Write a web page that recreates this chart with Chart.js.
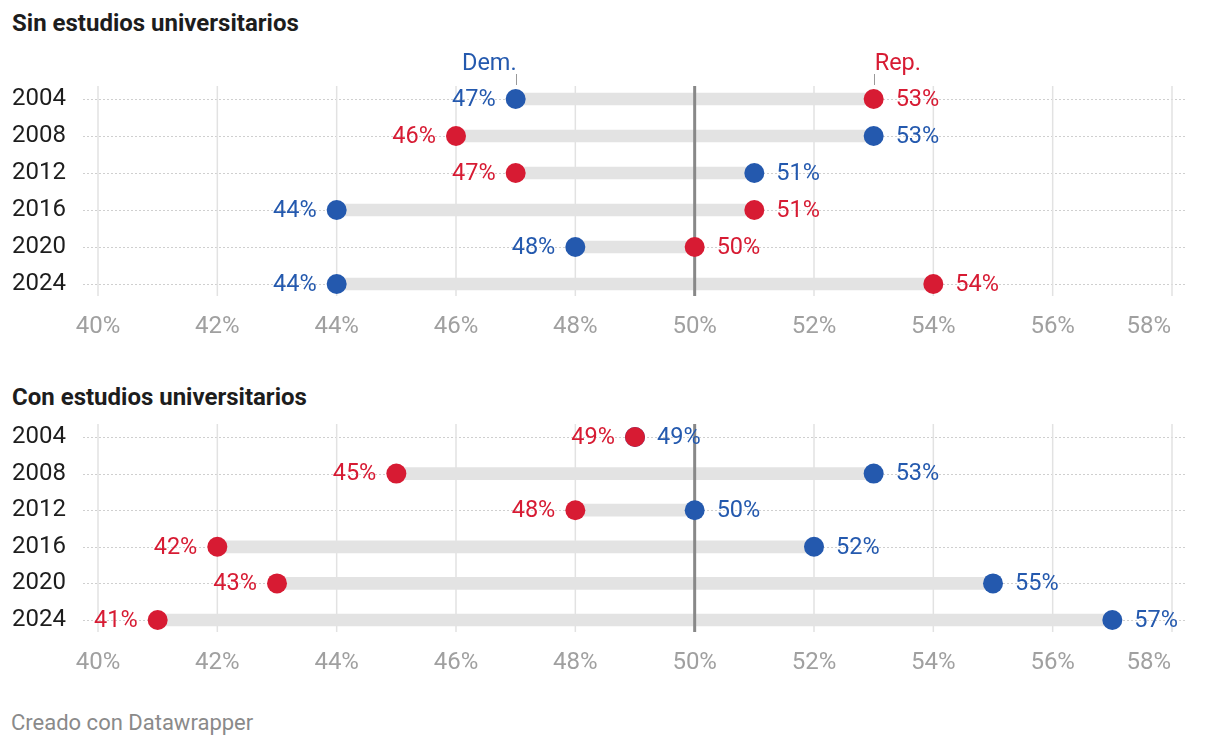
<!DOCTYPE html>
<html>
<head>
<meta charset="utf-8">
<script src="https://cdn.jsdelivr.net/npm/chart.js"></script>
<style>
  html, body { margin: 0; padding: 0; background: #fff; }
  body { width: 1220px; height: 748px; position: relative; overflow: hidden; font-family: Roboto, sans-serif; }
  canvas { position: absolute; left: 0; }
  .title { position: absolute; left: 12px; font-weight: 700; font-size: 24px; color: #1d1d1d; line-height: 28px; }
  .footer { position: absolute; left: 11px; top: 710px; font-size: 22px; color: #8a8a8a; line-height: 26px; }
</style>
</head>
<body>
<div class="title" style="top:9px">Sin estudios universitarios</div>
<canvas id="chartSin" width="1220" height="345" style="top:0"></canvas>
<div class="title" style="top:383px">Con estudios universitarios</div>
<canvas id="chartCon" width="1220" height="345" style="top:345px"></canvas>
<div class="footer">Creado con Datawrapper</div>

<script>
// ── data ────────────────────────────────────────────────────────────────────
const years = ['2004', '2008', '2012', '2016', '2020', '2024'];
const xTicks = [40, 42, 44, 46, 48, 50, 52, 54, 56, 58];

const sinDem = [47, 53, 51, 44, 48, 44];
const sinRep = [53, 46, 47, 51, 50, 54];

const conDem = [49, 53, 50, 52, 55, 57];
const conRep = [49, 45, 48, 42, 43, 41];

const BLUE = '#2459ae';
const RED = '#d71b33';
const FONT = 'Roboto, sans-serif';

// grid, dotted row lines, 50% line, value labels
const dumbbellPlugin = {
    id: 'dumbbell',
    beforeDatasetsDraw(chart) {
        const ctx = chart.ctx, xs = chart.scales.x, ys = chart.scales.y;
        const top = ys.getPixelForValue(0) - 13;
        const bottom = ys.getPixelForValue(years.length - 1) + 12;
        ctx.save();
        // dotted row guides
        ctx.strokeStyle = '#cfcfcf';
        ctx.lineWidth = 1;
        ctx.setLineDash([2, 2]);
        years.forEach((y, i) => {
            const py = Math.round(ys.getPixelForValue(i)) + 0.5;
            ctx.beginPath();
            ctx.moveTo(chart.chartArea.left - 15, py);
            ctx.lineTo(chart.chartArea.right + 14, py);
            ctx.stroke();
        });
        ctx.setLineDash([]);
        // vertical gridlines
        ctx.strokeStyle = '#e2e2e2';
        ctx.lineWidth = 1.5;
        xTicks.forEach(t => {
            if (t === 50) return;
            const px = xs.getPixelForValue(t);
            ctx.beginPath();
            ctx.moveTo(px, top);
            ctx.lineTo(px, bottom);
            ctx.stroke();
        });
        ctx.restore();
    },
    afterDatasetDraw(chart, args) {
        // 50% line sits above the grey bars, below the dots
        if (args.index !== 0) return;
        const ctx = chart.ctx, xs = chart.scales.x, ys = chart.scales.y;
        const px = xs.getPixelForValue(50);
        ctx.save();
        ctx.strokeStyle = '#888';
        ctx.lineWidth = 3;
        ctx.beginPath();
        ctx.moveTo(px, ys.getPixelForValue(0) - 13);
        ctx.lineTo(px, ys.getPixelForValue(years.length - 1) + 12);
        ctx.stroke();
        ctx.restore();
    },
    afterDatasetsDraw(chart, args, opts) {
        const ctx = chart.ctx, xs = chart.scales.x, ys = chart.scales.y;
        const dem = chart.data.datasets[1].data;
        const rep = chart.data.datasets[2].data;
        ctx.save();
        ctx.font = '23.5px ' + FONT;
        ctx.textBaseline = 'middle';
        years.forEach((y, i) => {
            const py = ys.getPixelForValue(i) + 1;
            // lower value goes left, ties put Rep left
            const demLeft = dem[i] < rep[i];
            const items = [
                { v: dem[i], c: BLUE, left: demLeft },
                { v: rep[i], c: RED, left: !demLeft }
            ];
            items.forEach(it => {
                const px = xs.getPixelForValue(it.v);
                ctx.fillStyle = it.c;
                ctx.textAlign = it.left ? 'right' : 'left';
                ctx.fillText(it.v + '%', it.left ? px - 20 : px + 22, py);
            });
        });
        // series labels above first row
        if (opts.legend) {
            const py = ys.getPixelForValue(0);
            const dx = xs.getPixelForValue(dem[0]);
            const rx = xs.getPixelForValue(rep[0]);
            ctx.textBaseline = 'alphabetic';
            ctx.fillStyle = BLUE;
            ctx.textAlign = 'right';
            ctx.fillText('Dem.', dx + 1, py - 29);
            ctx.fillStyle = RED;
            ctx.textAlign = 'left';
            ctx.fillText('Rep.', rx + 1, py - 29);
            ctx.strokeStyle = '#999';
            ctx.lineWidth = 1;
            [dx, rx].forEach(x => {
                ctx.beginPath();
                ctx.moveTo(Math.round(x) + 0.5, py - 25);
                ctx.lineTo(Math.round(x) + 0.5, py - 14);
                ctx.stroke();
            });
        }
        ctx.restore();
    }
};

function makeChart(id, dem, rep, padTop, padBottom, legend) {
    const ranges = dem.map((d, i) => [Math.min(d, rep[i]), Math.max(d, rep[i])]);
    return new Chart(document.getElementById(id), {
        type: 'bar',
        data: {
            labels: years,
            datasets: [
                { type: 'bar', data: ranges, backgroundColor: '#e3e3e3', barThickness: 12, order: 3 },
                { type: 'line', label: 'Dem.', data: dem, showLine: false, pointRadius: 10, pointBorderWidth: 0,
                  pointBackgroundColor: BLUE, pointBorderColor: BLUE, order: 2 },
                { type: 'line', label: 'Rep.', data: rep, showLine: false, pointRadius: 10, pointBorderWidth: 0,
                  pointBackgroundColor: RED, pointBorderColor: RED, order: 1 }
            ]
        },
        options: {
            indexAxis: 'y',
            responsive: false,
            animation: false,
            devicePixelRatio: 1,
            layout: { padding: { top: padTop, bottom: padBottom, left: 12, right: 48 } },
            scales: {
                x: {
                    min: 40, max: 58,
                    grid: { display: false },
                    border: { display: false },
                    afterBuildTicks: s => { s.ticks = xTicks.map(v => ({ value: v })); },
                    afterFit: s => { s.height = 40; },
                    ticks: {
                        color: '#a0a0a0',
                        font: { family: FONT, size: 24 },
                        padding: 2,
                        maxRotation: 0,
                        // last label ends at the right edge instead of centring on it
                        callback: v => v === xTicks[xTicks.length - 1] ? v + '%\u2007\u2007\u2007 ' : v + '%'
                    }
                },
                y: {
                    grid: { display: false },
                    border: { display: false },
                    afterFit: s => { s.width = 86; },
                    ticks: {
                        color: '#1d1d1d',
                        crossAlign: 'far',
                        font: { family: FONT, size: 24 }
                    }
                }
            },
            plugins: {
                legend: { display: false },
                tooltip: { enabled: false },
                dumbbell: { legend: legend }
            }
        },
        plugins: [dumbbellPlugin]
    });
}

makeChart('chartSin', sinDem, sinRep, 80.5, 2.5, true);
makeChart('chartCon', conDem, conRep, 73.7, 11.7, false);
</script>
</body>
</html>
